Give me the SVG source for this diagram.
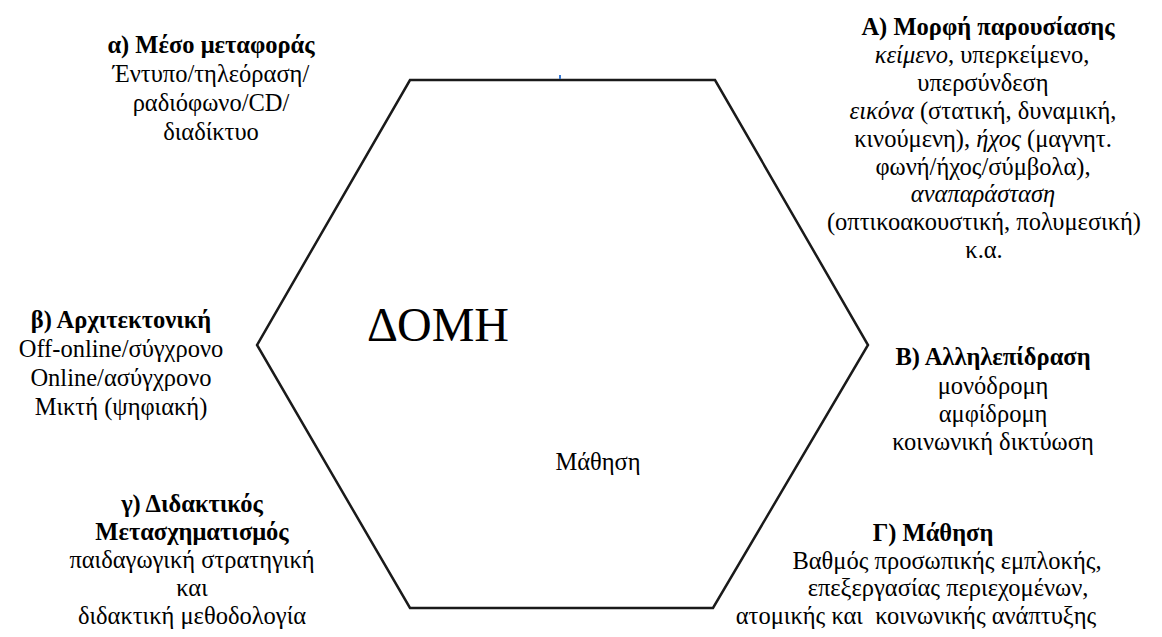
<svg xmlns="http://www.w3.org/2000/svg" width="1162" height="637" viewBox="0 0 1162 637">
<style>
.t text{font-size:24.5px;fill:#000;text-anchor:middle;font-family:"Liberation Serif","Times New Roman",serif}
.b{font-weight:bold}
.i{font-style:italic}
.hex{fill:none;stroke:#1a1a1a;stroke-width:2.5;stroke-linejoin:miter}
</style>
<rect width="1162" height="637" fill="#fff"/>
<g id="hexagon">
<polygon class="hex" points="257,345 410,80 715,80 868,345 713,608 410,608"/>
<rect x="559" y="75" width="2" height="4" fill="#3a7bd5"/>
</g>
<g class="t">
<g id="center">
<text x="438" y="341" style="font-size:48px">ΔΟΜΗ</text>
<text x="598" y="470">Μάθηση</text>
</g>
<g id="node-a">
<text class="b" x="211" y="53">α) Μέσο μεταφοράς</text>
<text x="211" y="82">Έντυπο/τηλεόραση/</text>
<text x="211" y="111">ραδιόφωνο/CD/</text>
<text x="211" y="140">διαδίκτυο</text>
</g>
<g id="node-b">
<text class="b" x="121" y="328">β) Αρχιτεκτονική</text>
<text x="121" y="357">Off-online/σύγχρονο</text>
<text x="121" y="386">Online/ασύγχρονο</text>
<text x="121" y="415">Μικτή (ψηφιακή)</text>
</g>
<g id="node-c">
<text class="b" x="192" y="512">γ) Διδακτικός</text>
<text class="b" x="192" y="540">Μετασχηματισμός</text>
<text x="192" y="568">παιδαγωγική στρατηγική</text>
<text x="192" y="596">και</text>
<text x="192" y="624">διδακτική μεθοδολογία</text>
</g>
<g id="node-A">
<text class="b" x="988" y="35">A) Μορφή παρουσίασης</text>
<text x="982" y="63"><tspan class="i">κείμενο</tspan>, υπερκείμενο,</text>
<text x="983" y="91">υπερσύνδεση</text>
<text x="983" y="119"><tspan class="i">εικόνα</tspan> (στατική, δυναμική,</text>
<text x="983" y="147">κινούμενη), <tspan class="i">ήχος</tspan> (μαγνητ.</text>
<text x="983" y="175">φωνή/ήχος/σύμβολα),</text>
<text class="i" x="983" y="202">αναπαράσταση</text>
<text x="984" y="230">(οπτικοακουστική, πολυμεσική)</text>
<text x="984" y="258">κ.α.</text>
</g>
<g id="node-B">
<text class="b" x="993" y="365">Β) Αλληλεπίδραση</text>
<text x="993" y="394">μονόδρομη</text>
<text x="993" y="422">αμφίδρομη</text>
<text x="993" y="450">κοινωνική δικτύωση</text>
</g>
<g id="node-G">
<text class="b" x="933" y="541">Γ) Μάθηση</text>
<text x="947" y="568.5">Βαθμός προσωπικής εμπλοκής,</text>
<text x="948" y="596">επεξεργασίας περιεχομένων,</text>
<text x="916" y="623.5" xml:space="preserve">ατομικής και  κοινωνικής ανάπτυξης</text>
</g>
</g>
<g id="connectors"/>
</svg>
